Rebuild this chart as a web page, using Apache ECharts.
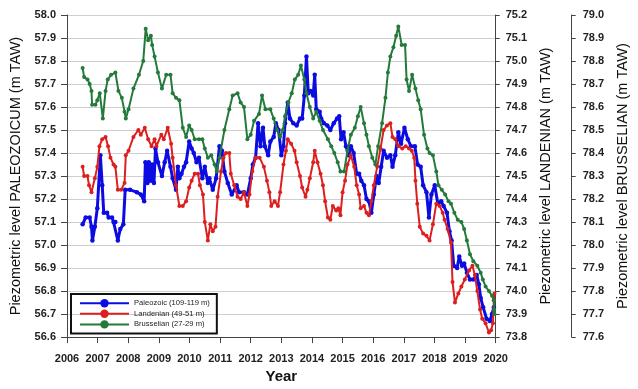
<!DOCTYPE html>
<html>
<head>
<meta charset="utf-8">
<script src="https://cdn.jsdelivr.net/npm/echarts@6/dist/echarts.min.js"></script>
<style>
  html, body { margin: 0; padding: 0; background: #fff; }
  #chart { width: 638px; height: 389px; }
</style>
</head>
<body>
<div id="chart"></div>
<script>
// Piezometric levels of three aquifers (m TAW), 2006-2020

const yearTicks = [2006, 2020];

// Paleozoic (109-119 m)
const paleoYears = [2006.51,2006.61,2006.74,2006.80,2006.83,2006.91,2006.99,2007.09,2007.15,2007.20,2007.31,2007.36,2007.47,2007.52,2007.58,2007.66,2007.74,2007.84,2007.90,2008.06,2008.28,2008.41,2008.52,2008.56,2008.63,2008.67,2008.74,2008.78,2008.84,2008.89,2008.97,2009.10,2009.19,2009.27,2009.38,2009.45,2009.56,2009.62,2009.67,2009.74,2009.82,2009.89,2009.99,2010.07,2010.14,2010.23,2010.31,2010.42,2010.50,2010.60,2010.65,2010.76,2010.87,2010.98,2011.06,2011.14,2011.25,2011.38,2011.54,2011.62,2011.78,2011.89,2012.00,2012.07,2012.16,2012.24,2012.32,2012.40,2012.46,2012.57,2012.64,2012.75,2012.82,2012.91,2013.00,2013.07,2013.12,2013.21,2013.28,2013.39,2013.50,2013.61,2013.68,2013.75,2013.82,2013.88,2013.96,2014.04,2014.09,2014.14,2014.25,2014.30,2014.39,2014.50,2014.60,2014.71,2014.82,2014.89,2014.95,2015.03,2015.11,2015.20,2015.27,2015.36,2015.46,2015.54,2015.61,2015.70,2015.78,2015.86,2015.94,2016.02,2016.11,2016.18,2016.26,2016.34,2016.45,2016.56,2016.63,2016.72,2016.82,2016.91,2017.02,2017.13,2017.23,2017.36,2017.45,2017.55,2017.63,2017.74,2017.82,2017.90,2018.01,2018.11,2018.22,2018.30,2018.41,2018.49,2018.56,2018.63,2018.74,2018.81,2018.90,2018.97,2019.06,2019.16,2019.27,2019.38,2019.45,2019.51,2019.59,2019.70,2019.81,2019.88,2019.94];
const paleoLevels = [57.09,57.12,57.12,57.08,57.02,57.08,57.16,57.39,57.26,57.14,57.14,57.12,57.12,57.10,57.10,57.02,57.07,57.09,57.24,57.24,57.23,57.22,57.19,57.36,57.27,57.36,57.28,57.35,57.27,57.42,57.36,57.30,57.36,57.41,57.34,57.29,57.24,57.34,57.29,57.31,57.34,57.36,57.45,57.42,57.40,57.36,57.38,57.29,57.34,57.27,57.29,57.24,57.29,57.43,57.41,57.32,57.27,57.22,57.26,57.23,57.23,57.22,57.29,57.35,57.38,57.53,57.43,57.51,57.43,57.39,57.45,57.47,57.53,57.50,57.39,57.43,57.53,57.62,57.55,57.53,57.52,57.55,57.55,57.65,57.82,57.66,57.67,57.65,57.74,57.59,57.58,57.55,57.53,57.52,57.50,57.53,57.55,57.56,57.46,57.49,57.43,57.39,57.43,57.40,57.31,57.31,57.28,57.26,57.20,57.19,57.14,57.22,57.30,57.27,57.34,57.41,57.38,57.39,57.34,57.39,57.49,57.44,57.51,57.46,57.43,57.43,57.35,57.34,57.26,57.23,57.12,57.22,57.26,57.18,57.19,57.17,57.14,57.06,57.02,56.91,56.90,56.95,56.91,56.92,56.88,56.85,56.85,56.87,56.83,56.77,56.73,56.68,56.67,56.70,56.73];

// Landenian (49-51 m)
const landYears = [2006.51,2006.56,2006.67,2006.72,2006.80,2006.91,2006.99,2007.06,2007.15,2007.26,2007.34,2007.42,2007.52,2007.58,2007.66,2007.77,2007.88,2007.92,2008.01,2008.17,2008.33,2008.41,2008.54,2008.65,2008.76,2008.86,2008.92,2009.08,2009.16,2009.29,2009.40,2009.45,2009.56,2009.67,2009.78,2009.89,2009.99,2010.07,2010.17,2010.28,2010.34,2010.44,2010.50,2010.60,2010.68,2010.76,2010.85,2010.92,2011.03,2011.11,2011.19,2011.30,2011.35,2011.46,2011.57,2011.67,2011.78,2011.89,2011.96,2012.05,2012.16,2012.29,2012.43,2012.53,2012.61,2012.67,2012.78,2012.89,2012.96,2013.07,2013.15,2013.21,2013.32,2013.43,2013.50,2013.61,2013.68,2013.79,2013.85,2013.93,2014.04,2014.09,2014.18,2014.28,2014.36,2014.43,2014.52,2014.60,2014.68,2014.79,2014.86,2014.93,2015.00,2015.08,2015.16,2015.27,2015.38,2015.46,2015.54,2015.59,2015.70,2015.78,2015.86,2015.94,2016.02,2016.13,2016.24,2016.34,2016.45,2016.56,2016.63,2016.72,2016.82,2016.95,2017.06,2017.17,2017.26,2017.34,2017.38,2017.44,2017.52,2017.63,2017.74,2017.84,2017.95,2018.06,2018.17,2018.27,2018.33,2018.43,2018.54,2018.59,2018.67,2018.78,2018.88,2018.99,2019.13,2019.24,2019.32,2019.40,2019.49,2019.56,2019.67,2019.78,2019.85,2019.91,2019.94,2019.96];
const landLevels = [74.54,74.50,74.50,74.46,74.43,74.49,74.54,74.63,74.66,74.67,74.63,74.58,74.55,74.54,74.44,74.44,74.47,74.59,74.61,74.67,74.70,74.68,74.71,74.66,74.63,74.66,74.63,74.68,74.66,74.71,74.64,74.58,74.46,74.37,74.37,74.39,74.45,74.48,74.51,74.51,74.46,74.42,74.30,74.22,74.29,74.26,74.28,74.41,74.52,74.58,74.60,74.60,74.51,74.46,74.41,74.40,74.43,74.37,74.42,74.52,74.58,74.58,74.54,74.48,74.43,74.37,74.39,74.37,74.43,74.55,74.61,74.66,74.64,74.61,74.56,74.50,74.45,74.41,74.44,74.49,74.56,74.61,74.56,74.51,74.46,74.39,74.32,74.31,74.37,74.35,74.36,74.33,74.43,74.48,74.55,74.59,74.54,74.46,74.42,74.36,74.37,74.34,74.33,74.39,74.46,74.54,74.62,74.70,74.72,74.73,74.67,74.66,74.63,74.62,74.63,74.62,74.61,74.58,74.48,74.38,74.28,74.25,74.24,74.22,74.29,74.38,74.37,74.34,74.31,74.27,74.21,74.04,73.95,73.99,74.02,74.05,74.09,74.11,74.07,74.00,73.92,73.88,73.86,73.82,73.83,73.86,73.96,73.99];

// Brusselian (27-29 m)
const brusYears = [2006.51,2006.56,2006.67,2006.74,2006.80,2006.82,2006.93,2006.99,2007.07,2007.17,2007.26,2007.33,2007.44,2007.58,2007.68,2007.79,2007.88,2007.92,2008.01,2008.17,2008.35,2008.49,2008.57,2008.65,2008.74,2008.78,2008.86,2008.97,2009.10,2009.24,2009.38,2009.45,2009.56,2009.67,2009.78,2009.89,2009.99,2010.07,2010.17,2010.31,2010.42,2010.50,2010.60,2010.71,2010.82,2010.89,2010.98,2011.14,2011.30,2011.41,2011.57,2011.67,2011.78,2011.89,2012.00,2012.11,2012.27,2012.37,2012.48,2012.64,2012.75,2012.86,2012.96,2013.05,2013.12,2013.23,2013.34,2013.44,2013.55,2013.64,2013.75,2013.82,2013.93,2014.04,2014.14,2014.25,2014.36,2014.52,2014.63,2014.73,2014.84,2014.93,2015.05,2015.16,2015.27,2015.40,2015.50,2015.59,2015.70,2015.78,2015.86,2015.97,2016.07,2016.16,2016.29,2016.40,2016.48,2016.56,2016.66,2016.75,2016.82,2016.93,2017.04,2017.09,2017.17,2017.27,2017.38,2017.47,2017.55,2017.66,2017.77,2017.84,2017.95,2018.06,2018.13,2018.24,2018.35,2018.46,2018.54,2018.65,2018.76,2018.88,2018.97,2019.06,2019.16,2019.27,2019.40,2019.51,2019.58,2019.67,2019.78,2019.88,2019.94,2019.95,2019.96];
const brusLevels = [78.77,78.73,78.72,78.70,78.67,78.61,78.61,78.63,78.66,78.55,78.67,78.72,78.74,78.75,78.67,78.64,78.58,78.55,78.59,78.68,78.74,78.80,78.94,78.89,78.91,78.87,78.82,78.75,78.68,78.74,78.74,78.66,78.64,78.63,78.51,78.47,78.52,78.50,78.46,78.46,78.46,78.42,78.38,78.39,78.35,78.32,78.38,78.50,78.59,78.65,78.66,78.62,78.60,78.46,78.48,78.54,78.57,78.65,78.59,78.59,78.55,78.50,78.47,78.50,78.56,78.62,78.66,78.72,78.74,78.78,78.72,78.66,78.60,78.55,78.58,78.54,78.50,78.46,78.43,78.40,78.36,78.32,78.32,78.41,78.48,78.51,78.56,78.60,78.53,78.48,78.43,78.38,78.35,78.43,78.53,78.64,78.75,78.82,78.86,78.91,78.95,78.87,78.87,78.72,78.67,78.74,78.68,78.63,78.59,78.48,78.42,78.40,78.39,78.32,78.26,78.24,78.22,78.19,78.18,78.14,78.11,78.10,78.07,78.02,77.96,77.93,77.91,77.88,77.85,77.82,77.80,77.78,77.76,77.72,77.70];

const seriesNames = ['Paleozoic (109-119 m)', 'Landenian (49-51 m)', 'Brusselian (27-29 m)'];
const seriesColors = ['#0c0ce2', '#dd1f1f', '#237a3a'];

const zip = (xs, ys) => xs.map((x, i) => [x, ys[i]]);

const FONT = '"Liberation Sans", Arial, sans-serif';
const axisLineStyle = { lineStyle: { color: '#444', width: 1 } };
const tickLabel = { fontFamily: FONT, fontSize: 11, fontWeight: 'bold', color: '#222', formatter: v => v.toFixed(1) };
const titleStyle = { fontFamily: FONT, fontSize: 14.5, color: '#111' };

const chart = echarts.init(document.getElementById('chart'), null, { renderer: 'canvas' });

chart.setOption({
  animation: false,
  backgroundColor: '#fff',
  grid: { left: 67, right: 136, top: 15, bottom: 44, containLabel: false },
  legend: {
    orient: 'vertical',
    left: 71,
    top: 294,
    data: seriesNames,
    itemWidth: 49,
    itemHeight: 10.5,
    itemGap: 2.2,
    padding: [5, 7, 5, 8],
    borderColor: '#111',
    borderWidth: 2,
    borderRadius: 0,
    textStyle: { fontFamily: FONT, fontSize: 7.6, color: '#222' }
  },
  xAxis: {
    type: 'value',
    min: yearTicks[0],
    max: yearTicks[1],
    interval: 1,
    name: 'Year',
    nameLocation: 'middle',
    nameGap: 29,
    nameTextStyle: { fontFamily: FONT, fontSize: 15, fontWeight: 'bold', color: '#111' },
    axisLine: axisLineStyle,
    axisTick: { length: 6, lineStyle: { color: '#444' } },
    axisLabel: { fontFamily: FONT, fontSize: 11, fontWeight: 'bold', color: '#222', margin: 16, formatter: v => String(v) },
    splitLine: { show: false }
  },
  yAxis: [
    {
      type: 'value', position: 'left', min: 56.6, max: 58.0, interval: 0.1,
      name: 'Piezometric level PALEOZOICUM (m TAW)',
      nameLocation: 'middle', nameRotate: 90, nameGap: 33, nameTextStyle: titleStyle,
      axisLine: { show: true, ...axisLineStyle },
      axisTick: { show: true, length: 6, lineStyle: { color: '#444' } },
      axisLabel: { ...tickLabel, margin: 11 },
      splitLine: { show: true, lineStyle: { color: '#cfcfcf', width: 1 } }
    },
    {
      type: 'value', position: 'right', offset: 0, min: 73.8, max: 75.2, interval: 0.1,
      name: 'Piezometric level LANDENIAN (m TAW)',
      nameLocation: 'middle', nameRotate: 90, nameGap: 33, nameTextStyle: titleStyle,
      axisLine: { show: true, ...axisLineStyle },
      axisTick: { show: true, length: 4, lineStyle: { color: '#444' } },
      axisLabel: { ...tickLabel, margin: 10 },
      splitLine: { show: false }
    },
    {
      type: 'value', position: 'right', offset: 76, min: 77.6, max: 79.0, interval: 0.1,
      name: 'Piezometric level BRUSSELIAN (m TAW)',
      nameLocation: 'middle', nameRotate: 90, nameGap: 32, nameTextStyle: titleStyle,
      axisLine: { show: true, ...axisLineStyle },
      axisTick: { show: true, length: 4, lineStyle: { color: '#444' } },
      axisLabel: { ...tickLabel, margin: 11 },
      splitLine: { show: false }
    }
  ],
  series: [
    {
      name: seriesNames[0], type: 'line', yAxisIndex: 0,
      data: zip(paleoYears, paleoLevels),
      symbol: 'circle', symbolSize: 4.5, showSymbol: true,
      lineStyle: { color: seriesColors[0], width: 3 },
      itemStyle: { color: seriesColors[0] },
      z: 2
    },
    {
      name: seriesNames[1], type: 'line', yAxisIndex: 1,
      data: zip(landYears, landLevels),
      symbol: 'circle', symbolSize: 4, showSymbol: true,
      lineStyle: { color: seriesColors[1], width: 2 },
      itemStyle: { color: seriesColors[1] },
      z: 3
    },
    {
      name: seriesNames[2], type: 'line', yAxisIndex: 2,
      data: zip(brusYears, brusLevels),
      symbol: 'circle', symbolSize: 4, showSymbol: true,
      lineStyle: { color: seriesColors[2], width: 2 },
      itemStyle: { color: seriesColors[2] },
      z: 4
    }
  ]
});
</script>
</body>
</html>
